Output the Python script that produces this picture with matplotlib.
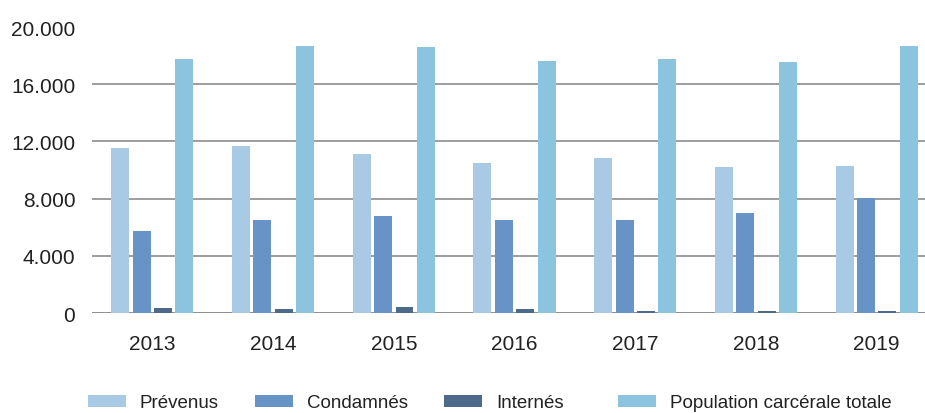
import matplotlib
matplotlib.use('Agg')
import matplotlib.pyplot as plt
import numpy as np

# Data
years = ['2013', '2014', '2015', '2016', '2017', '2018', '2019']
prevenus = [11560, 11680, 11130, 10490, 10840, 10190, 10280]
condamnes = [5760, 6500, 6790, 6500, 6500, 6970, 8020]
internes = [370, 300, 400, 300, 150, 150, 150]
total = [17760, 18670, 18620, 17620, 17760, 17570, 18690]

labels = ['Prévenus', 'Condamnés', 'Internés', 'Population carcérale totale']
colors = ['#a9cae5', '#6893c6', '#4e6a8a', '#8cc4df']
yticks = [0, 4000, 8000, 12000, 16000, 20000]

plt.rcParams['font.family'] = ['Liberation Sans', 'DejaVu Sans']

fig = plt.figure(figsize=(9.25, 4.14), dpi=100)
ax = fig.add_axes([92 / 925, 1 - 314 / 414, 1 - 92 / 925, (314 - 28) / 414])

x = np.arange(len(years))
step = 0.177
width = 0.149
series = [prevenus, condamnes, internes, total]

# grid lines (no line at the top value)
for t in yticks[:-1]:
    ax.axhline(t, color='#8c8c8c' if t else '#7a7a7a', lw=1.2, zorder=1)

bars = []
for i, (vals, c, lab) in enumerate(zip(series, colors, labels)):
    bars.append(ax.bar(x + (i - 1.5) * step, vals, width, color=c, label=lab, zorder=2))

ax.set_xlim(-0.5, 6.4)
ax.set_ylim(0, 20000)
ax.set_yticks(yticks)
ax.set_yticklabels([f'{v:,}'.replace(',', '.') for v in yticks])
ax.set_xticks(x)
ax.set_xticklabels(years)
ax.tick_params(axis='y', length=0, pad=12, labelsize=15, labelcolor='#222222')
ax.tick_params(axis='x', length=0, pad=15, labelsize=15, labelcolor='#222222')
for s in ax.spines.values():
    s.set_visible(False)

# legend in two pieces to match the wider gap before the last entry
leg_kw = dict(loc='center left', frameon=False, fontsize=13.5, handlelength=2.0,
              handleheight=0.65, handletextpad=0.75, columnspacing=1.95,
              borderpad=0, borderaxespad=0, labelcolor='#222222')
fig.legend(bars[:3], labels[:3], ncol=3, bbox_to_anchor=(88 / 925, 10 / 414), **leg_kw)
fig.legend(bars[3:], labels[3:], ncol=1, bbox_to_anchor=(618 / 925, 10 / 414), **leg_kw)

fig.savefig('out.png', dpi=100)
